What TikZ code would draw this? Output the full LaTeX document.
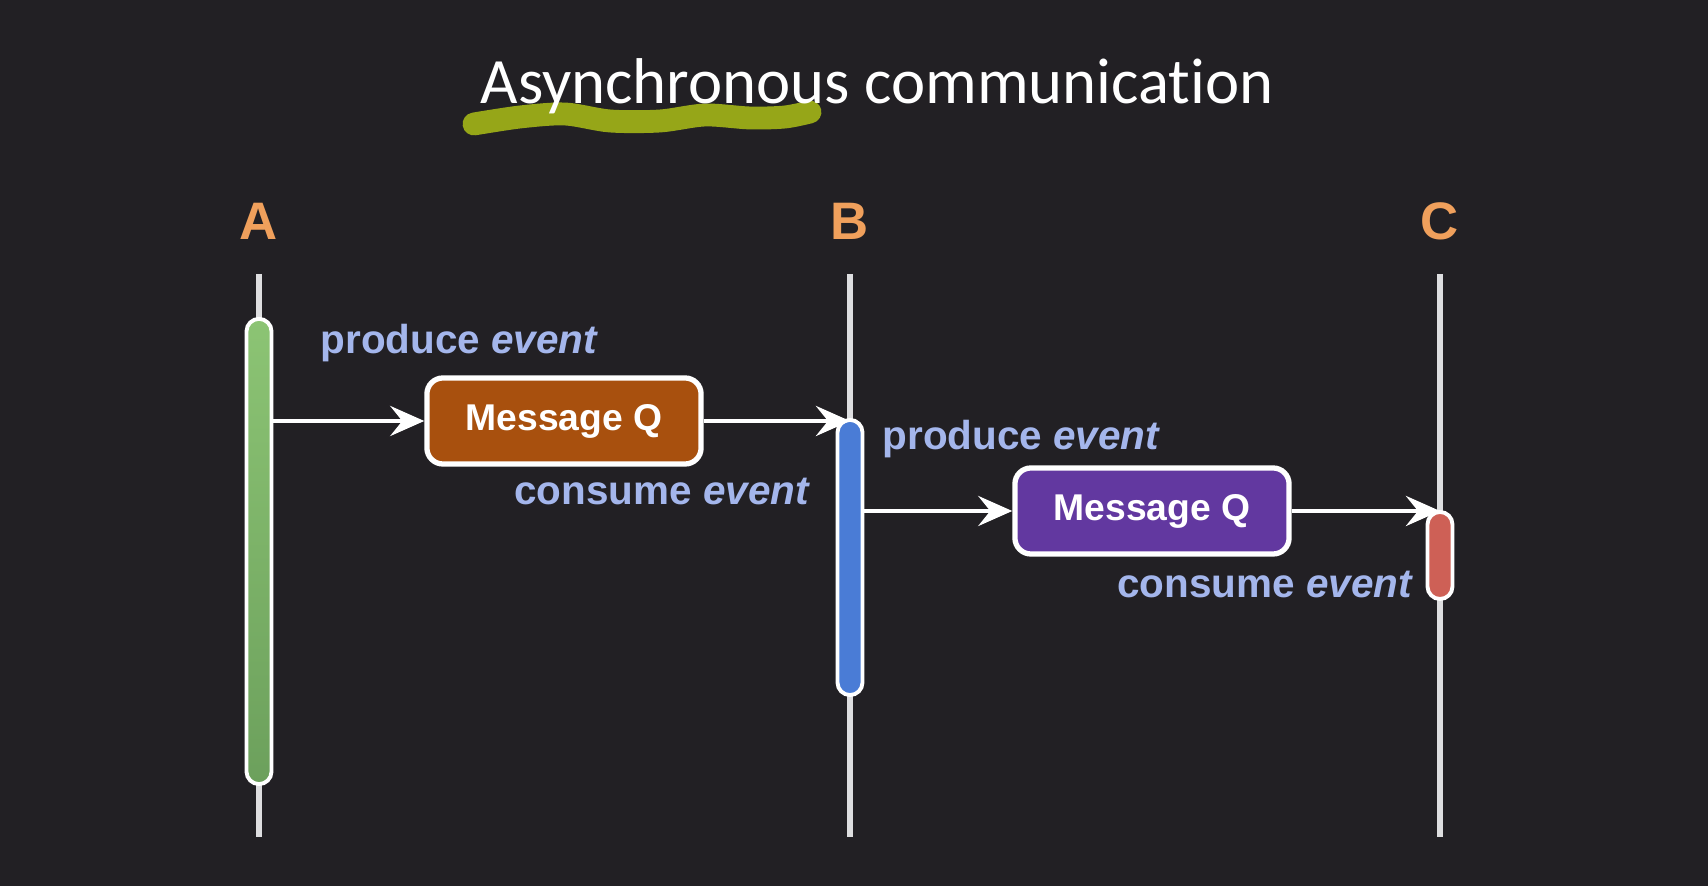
\documentclass[tikz,border=0pt]{standalone}
\usepackage{fontspec}
\setmainfont{Liberation Sans}
\newfontfamily\titlefont[Ligatures=NoCommon]{Carlito}
\usetikzlibrary{arrows.meta,positioning}

\definecolor{bgdark}{RGB}{34,32,36}
\definecolor{linegray}{RGB}{222,222,224}
\definecolor{actorange}{RGB}{240,160,92}
\definecolor{evblue}{RGB}{164,182,236}
\definecolor{qbrown}{RGB}{168,80,14}
\definecolor{qpurple}{RGB}{98,56,160}
\definecolor{bargreen}{RGB}{140,196,116}
\definecolor{bargreendark}{RGB}{108,160,92}
\definecolor{barblue}{RGB}{74,124,214}
\definecolor{barred}{RGB}{206,96,86}
\definecolor{marker}{RGB}{150,166,24}

\begin{document}
\begin{tikzpicture}[x=0.01cm,y=-0.01cm,
    actor/.style={text=actorange,font=\bfseries\fontsize{15}{18}\selectfont},
    lifeline/.style={draw=linegray,line width=1.5pt},
    actbar/.style={draw=white,line width=1.1pt,minimum width=0.25cm,
        rounded corners=0.125cm,inner sep=0pt},
    queue/.style={draw=white,line width=1.5pt,rounded corners=0.16cm,
        minimum width=2.74cm,minimum height=0.86cm,text=white,
        font=\bfseries\fontsize{10.6}{13}\selectfont},
    evlabel/.style={text=evblue,font=\bfseries\fontsize{11.5}{14}\selectfont,inner sep=0pt},
    msg/.style={draw=white,line width=1.3pt,
        -{Stealth[length=3.4mm,width=3mm,inset=1.2mm]}}]

    % background
    \fill[bgdark] (0,0) rectangle (1708,886);
    \useasboundingbox (0,0) rectangle (1708,886);

    % title
    \draw[marker,line width=6.5pt,line cap=round,smooth]
        plot coordinates {(474,124) (520,117) (565,114) (610,121) (660,121)
                          (705,115) (750,118) (785,117) (810,112)};
    \node[anchor=base,text=white,font=\titlefont\fontsize{18.4}{21}\selectfont]
        (title) at (877,104) {Asynchronous communication};

    % actors
    \node[actor] (A) at (259,221) {A};
    \node[actor] (B) at (850,221) {B};
    \node[actor] (C) at (1440,221) {C};

    % lifelines
    \foreach \n/\x in {A/259,B/850,C/1440} {
        \coordinate (\n top) at (\x,274);
        \coordinate (\n bot) at (\x,837);
        \draw[lifeline] (\n top) -- (\n bot);
    }

    % activations
    \node[actbar,top color=bargreen,bottom color=bargreendark,minimum height=4.65cm]
        (barA) at (259,551.5) {};
    \node[actbar,fill=barblue,minimum height=2.75cm] (barB) at (850,557.5) {};
    \node[actbar,fill=barred,minimum height=0.87cm] (barC) at (1440,555.5) {};

    % queues
    \node[queue,fill=qbrown] (q1) at (564,421) {Message Q};
    \node[queue,fill=qpurple] (q2) at (1152,511) {Message Q};

    % messages
    \draw[msg] (barA.east |- q1.west) -- (q1.west);
    \draw[msg] (q1.east) -- (q1.east -| barB.north);
    \draw[msg] (barB.east |- q2.west) -- (q2.west);
    \draw[msg] (q2.east) -- (q2.east -| barC.north);

    % labels
    \node[evlabel,anchor=base west] (p1) at (320,354) {produce \textit{event}};
    \node[evlabel,anchor=base east] (c1) at (811,505) {consume \textit{event}};
    \node[evlabel,anchor=base west] (p2) at (882,450) {produce \textit{event}};
    \node[evlabel,anchor=base east] (c2) at (1414,598) {consume \textit{event}};
\end{tikzpicture}
\end{document}
